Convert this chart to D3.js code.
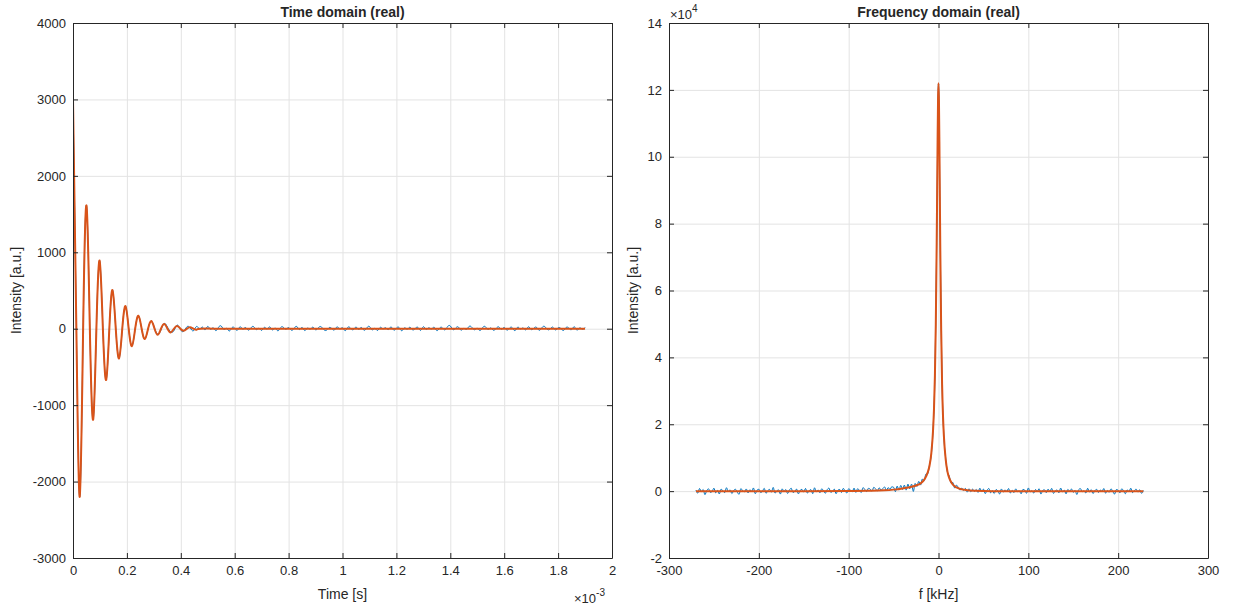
<!DOCTYPE html>
<html>
<head>
<meta charset="utf-8">
<script src="https://cdn.jsdelivr.net/npm/d3@7"></script>
<style>
  body { margin: 0; background: #fff; }
  text { font-family: "Liberation Sans", Arial, Helvetica, sans-serif; fill: #262626; }
</style>
</head>
<body>
<div id="chart"></div>
<script>
// ---- time domain (t in ms, shown with x10^-3 multiplier) ----
const timeTicksX = [0, 0.2, 0.4, 0.6, 0.8, 1, 1.2, 1.4, 1.6, 1.8, 2];
const timeTicksY = [-3000, -2000, -1000, 0, 1000, 2000, 3000, 4000];

// fitted curve: extrema and zero crossings of the damped oscillation
const timeFitT = [0, 0.0125, 0.0250, 0.0376, 0.0502, 0.0625, 0.0748, 0.0868, 0.0988, 0.1109,
  0.1230, 0.1348, 0.1466, 0.1587, 0.1708, 0.1828, 0.1948, 0.2067, 0.2186, 0.2307,
  0.2428, 0.2547, 0.2666, 0.2786, 0.2906, 0.3026, 0.3146, 0.3266, 0.3386, 0.3506,
  0.3626, 0.3746, 0.3866, 0.3986, 0.4106, 0.4226, 0.4346, 0.4466, 0.4586, 0.4706,
  0.55, 0.7, 1.0, 1.3, 1.6, 1.9];
const timeFitV = [3000, 0, -2200, 0, 1610, 0, -1190, 0, 890, 0,
  -670, 0, 505, 0, -390, 0, 296, 0, -228, 0,
  170, 0, -135, 0, 100, 0, -80, 0, 62, 0,
  -48, 0, 36, 0, -28, 0, 20, 0, -14, 0,
  0, 0, 0, 0, 0, 0];

// measured signal where it separates from the fit
const timeMeasT = [0.2906, 0.3026, 0.3146, 0.3266, 0.3386, 0.3506, 0.3626, 0.3746, 0.3866, 0.3986,
  0.4106, 0.4226, 0.4346, 0.4466, 0.4586, 0.4706];
const timeMeasV = [100, 8, -72, -15, 70, 20, -40, -25, 48, -10,
  -35, 25, 12, -28, 30, -5];
// measured noise tail, one value every 0.01 ms from 0.48 to 1.90
const timeNoiseV = [
  22, -15, 30, -8, 12, -25, 18, 35, -10, 5,
  -30, 14, 8, -20, 26, -5, 16, -18, 10, 28,
  -12, 6, -22, 18, -4, 24, -16, 9, -28, 13,
  20, -7, 15, -19, 3, 30, -11, 17, -24, 8,
  -6, 21, -14, 11, 27, -9, -21, 14, 4, -17,
  25, -3, 12, -26, 19, 7, -13, 22, -8, 16,
  -20, 10, 29, -15, 5, -23, 18, -2, 13, -11,
  24, -18, 8, 15, -27, 11, -6, 20, -14, 3,
  17, -22, 26, -9, 12, -4, 19, -25, 7, 14,
  -16, 28, 36, -12, 9, 22, -19, 5, -8, 31,
  18, -14, 6, -24, 15, 27, -10, 11, -20, 4,
  23, -7, 16, -18, 9, 13, -26, 20, -3, 10,
  -15, 25, -11, 7, 18, -21, 14, 30, -9, -5,
  21, -16, 12, 4, -23, 17, 8, -12, 26, -19,
  10, -6, 15];

// ---- frequency domain (kHz) ----
const freqTicksX = [-300, -200, -100, 0, 100, 200, 300];
const freqTicksY = [-20000, 0, 20000, 40000, 60000, 80000, 100000, 120000, 140000];

const freqFitF = [-270, -150, -100, -80, -60, -50, -40, -30, -25, -20, -15, -12, -10, -8, -6, -5, -4, -3, -2, -1.5, -1, -0.5,
  0, 0.5, 1, 1.5, 2, 3, 4, 5, 6, 8, 10, 12, 15, 20, 25, 30, 40, 60, 228];
const freqFitV = [0, 0, 50, 120, 250, 450, 800, 1300, 1700, 2300, 3800, 5600, 7600, 11300, 18500, 24700, 34500, 50000, 74300, 89600, 105100, 117300,
  122000, 116800, 104300, 88200, 72000, 48000, 32000, 22500, 16500, 9500, 5800, 3900, 2300, 1100, 600, 350, 120, 0, 0];

// measured spectrum, one value every 2 kHz from -270 to 228
const freqMeasV = [
  300, -620, 780, -200, 480, -1050, 150, 700, -380, -80,
  880, -520, 220, -850, 600, 50, -450, 1020, -150, 380,
  -720, 200, 550, -320, -950, 750, 100, -220, 650, -550,
  420, -120, 950, -780, 250, 580, -420, -50, 820, -650,
  150, 500, -300, 1100, -600, 30, 380, -880, 680, -180,
  480, -700, 300, 880, -400, -100, 620, -820, 220, 520,
  -280, 800, -600, 120, 450, -750, 1000, -220, 350, -500,
  700, 80, -650, 400, 920, -350, -120, 600, -780, 280,
  500, -420, 820, 50, -580, 720, 300, -200, 900, -380,
  720, 160, -400, 1050, 480, -150, 850, 580, 0, 1150,
  650, 100, 1000, 280, 780, 1250, 180, 1050, 520, 1300,
  1150, -150, 1500, 300, 1700, 500, 1800, 300, 2100, 700,
  2100, -100, 2300, 1400, 2900, 1800, 3600, 3100, 5100, 5200,
  7900, 11000, 18700, 34500, 74300,
  122000,
  72000, 32200, 16300, 9800, 5600, 4500, 2400, 2600, 900, 1800,
  1100, 300, 900, 200, 800, -300, 700, -200, 600, -100,
  500, -380, 880, -120, 620, -750, 250, 800, -500, 150,
  -700, 450, 100, -880, 650, -300, 380, -100, 780, -580,
  220, -450, 680, -180, 80, -800, 520, 300, -650, 950,
  -250, 120, -600, 480, -80, 720, -880, 200, 400, -480,
  600, -150, 820, -680, 50, 350, -520, 920, -220, 280,
  -820, 500, -50, 650, -380, 220, -1000, 420, 750, -200,
  100, -580, 850, -280, 450, -720, 150, 550, -420, 320,
  -120, 780, -620, 180, -350, 680, -80, -900, 480, 250,
  -500, 700, 50, -780, 380, -220, 880, -450, 150, 600,
  -300, 420, -650, 200];

const blue = "#0072BD", orange = "#D95319";
const W = 1233, H = 608;
const plotTop = 23, plotBottom = 558;

const svg = d3.select("#chart").append("svg")
  .attr("width", W).attr("height", H)
  .style("background", "#fff");

function panel(opts) {
  const x = d3.scaleLinear().domain(opts.xDomain).range([opts.left, opts.right]);
  const y = d3.scaleLinear().domain(opts.yDomain).range([plotBottom, plotTop]);
  const g = svg.append("g");
  const w = opts.right - opts.left, h = plotBottom - plotTop;

  // grid
  g.append("g").attr("transform", `translate(0,${plotBottom})`)
    .call(d3.axisBottom(x).tickValues(opts.xTicks).tickSize(-h).tickFormat(""))
    .call(s => s.select(".domain").remove())
    .selectAll("line").attr("stroke", "#e3e3e3");
  g.append("g").attr("transform", `translate(${opts.left},0)`)
    .call(d3.axisLeft(y).tickValues(opts.yTicks).tickSize(-w).tickFormat(""))
    .call(s => s.select(".domain").remove())
    .selectAll("line").attr("stroke", "#e3e3e3");

  // lines
  const clip = "clip" + opts.left;
  svg.append("clipPath").attr("id", clip).append("rect")
    .attr("x", opts.left).attr("y", plotTop).attr("width", w).attr("height", h);
  const lines = g.append("g").attr("clip-path", `url(#${clip})`);
  const line = d3.line().x(d => x(d[0])).y(d => y(d[1])).curve(opts.curve);
  lines.append("path").datum(opts.meas).attr("d", line)
    .attr("fill", "none").attr("stroke", blue).attr("stroke-width", 1);
  lines.append("path").datum(opts.fit).attr("d", line)
    .attr("fill", "none").attr("stroke", orange).attr("stroke-width", 2);

  // axes with inward ticks on all four sides
  const styleAxis = s => {
    s.selectAll("path, line").attr("stroke", "#262626");
    s.selectAll("text").attr("fill", "#262626").style("font-size", "13px")
      .style("font-family", '"Liberation Sans", Arial, sans-serif');
  };
  g.append("g").attr("transform", `translate(0,${plotBottom})`)
    .call(d3.axisBottom(x).tickValues(opts.xTicks).tickSize(-5).tickSizeOuter(0).tickPadding(8).tickFormat(opts.xFormat))
    .call(styleAxis);
  g.append("g").attr("transform", `translate(0,${plotTop})`)
    .call(d3.axisTop(x).tickValues(opts.xTicks).tickSize(-5).tickSizeOuter(0).tickFormat(""))
    .call(styleAxis);
  g.append("g").attr("transform", `translate(${opts.left},0)`)
    .call(d3.axisLeft(y).tickValues(opts.yTicks).tickSize(-5).tickSizeOuter(0).tickPadding(7).tickFormat(opts.yFormat))
    .call(styleAxis);
  g.append("g").attr("transform", `translate(${opts.right},0)`)
    .call(d3.axisRight(y).tickValues(opts.yTicks).tickSize(-5).tickSizeOuter(0).tickFormat(""))
    .call(styleAxis);

  const cx = (opts.left + opts.right) / 2;
  g.append("text").attr("x", cx).attr("y", 17).attr("text-anchor", "middle")
    .style("font-size", "14px").style("font-weight", "bold").text(opts.title);
  g.append("text").attr("x", cx).attr("y", 599).attr("text-anchor", "middle")
    .style("font-size", "14px").text(opts.xLabel);
  g.append("text").attr("transform", `translate(${opts.yLabelX},${(plotTop + plotBottom) / 2}) rotate(-90)`)
    .attr("text-anchor", "middle").style("font-size", "14px").text("Intensity [a.u.]");
  return g;
}

// time-domain panel
const timeMeas = timeFitT.filter(t => t < 0.29).map((t, i) => [t, timeFitV[i]])
  .concat(timeMeasT.map((t, i) => [t, timeMeasV[i]]))
  .concat(d3.range(48, 191).map((k, i) => [k / 100, timeNoiseV[i]]));
const gt = panel({
  left: 73, right: 612, xDomain: [0, 2], yDomain: [-3000, 4000],
  xTicks: timeTicksX, yTicks: timeTicksY,
  xFormat: d => String(d), yFormat: d => String(d),
  curve: d3.curveNatural,
  meas: timeMeas, fit: timeFitT.map((t, i) => [t, timeFitV[i]]),
  title: "Time domain (real)", xLabel: "Time [s]", yLabelX: 21
});
const mt = gt.append("text").attr("x", 574).attr("y", 603).style("font-size", "13px");
mt.append("tspan").text("\u00d710");
mt.append("tspan").attr("dy", -7).style("font-size", "10px").text("-3");

// frequency-domain panel
const freqMeasF = d3.range(-270, 229, 2);
const gf = panel({
  left: 669, right: 1208, xDomain: [-300, 300], yDomain: [-20000, 140000],
  xTicks: freqTicksX, yTicks: freqTicksY,
  xFormat: d => String(d), yFormat: d => String(d / 10000),
  curve: d3.curveMonotoneX,
  meas: freqMeasF.map((f, i) => [f, freqMeasV[i]]),
  fit: freqFitF.map((f, i) => [f, freqFitV[i]]),
  title: "Frequency domain (real)", xLabel: "f [kHz]", yLabelX: 638
});
const mf = gf.append("text").attr("x", 670).attr("y", 19).style("font-size", "13px");
mf.append("tspan").text("\u00d710");
mf.append("tspan").attr("dy", -7).style("font-size", "10px").text("4");
</script>
</body>
</html>
